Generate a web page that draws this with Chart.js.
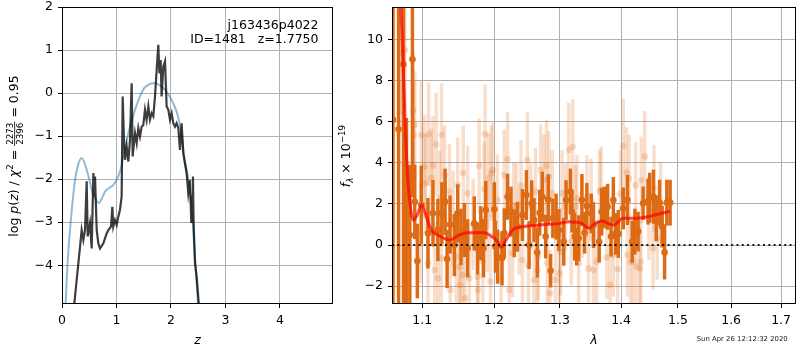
<!DOCTYPE html>
<html>
<head>
<meta charset="utf-8">
<script src="https://cdn.jsdelivr.net/npm/chart.js@4.4.1/dist/chart.umd.min.js"></script>
<style>
  html, body { margin:0; padding:0; background:#ffffff; }
  #wrap { position:relative; width:800px; height:350px; overflow:hidden; background:#fff; }
  canvas { position:absolute; top:0; }
  #pz { left:0; }
  #sp { left:335px; }
</style>
</head>
<body>
<div id="wrap">
  <canvas id="pz" width="340" height="350"></canvas>
  <canvas id="sp" width="465" height="350"></canvas>
</div>
<script>
// ---------------- Left panel data: log p(z) ----------------
const zSmooth = [0.04,0.068,0.10,0.147,0.239,0.30,0.361,0.40,0.453,0.50,0.545,0.60,0.679,0.73,0.79,0.87,0.943,1.03,1.08,1.126,1.218,1.34,1.49,1.57,1.67,1.768,1.915,2.04,2.13,2.19,2.25,2.31,2.374,2.416,2.453,2.495,2.53];
const logpSmooth = [-6.0,-4.88,-4.0,-3.18,-2.02,-1.65,-1.51,-1.58,-1.78,-2.0,-2.25,-2.42,-2.56,-2.45,-2.29,-2.2,-2.13,-1.94,-1.75,-1.47,-0.93,-0.39,0.08,0.18,0.23,0.2,0.04,-0.23,-0.54,-0.93,-1.55,-1.94,-2.56,-3.33,-4.03,-4.88,-5.5];

const zChi = [0.17,0.227,0.331,0.361,0.392,0.423,0.453,0.472,0.514,0.545,0.576,0.594,0.606,0.637,0.667,0.698,0.759,0.820,0.851,0.900,0.924,0.942,0.973,1.004,1.034,1.065,1.095,1.114,1.138,1.157,1.187,1.218,1.248,1.279,1.297,1.340,1.371,1.401,1.432,1.462,1.493,1.524,1.554,1.585,1.615,1.646,1.676,1.707,1.738,1.768,1.787,1.811,1.829,1.860,1.891,1.921,1.952,1.982,2.013,2.043,2.074,2.104,2.135,2.166,2.196,2.227,2.257,2.288,2.318,2.349,2.374,2.392,2.404,2.416,2.441,2.471,2.51,2.53];
const logpChi = [-5.6,-4.88,-3.57,-3.18,-3.41,-3.18,-2.05,-3.33,-3.02,-3.61,-1.86,-2.40,-1.94,-3.18,-3.49,-3.61,-3.49,-3.26,-3.18,-3.10,-2.64,-3.10,-2.95,-3.06,-2.87,-2.71,-2.40,-0.08,-1.09,-1.55,-1.24,-1.59,-1.09,0.23,-1.47,-0.93,-1.16,-0.81,-1.01,-0.78,-0.74,-0.39,-0.62,-0.31,-0.62,-0.47,-0.54,-0.08,0.54,1.12,0.46,0.77,-0.08,0.62,0.74,-0.31,-0.39,-0.62,-0.47,-0.70,-0.78,-0.70,-0.81,-1.32,-0.70,-1.40,-1.63,-1.86,-2.33,-2.02,-3.02,-2.4,-1.94,-3.0,-3.95,-4.26,-4.88,-5.6];

const zTicks = [0,1,2,3,4];
const logpTicks = [-4,-3,-2,-1,0,1,2];

// ---------------- Right panel data: spectrum ----------------
const darkWave = [1.0616,1.0688,1.0752,1.0791,1.0835,1.0869,1.0900,1.0934,1.0987,1.1076,1.1143,1.1210,1.1264,1.1309,1.1336,1.1377,1.1437,1.1483,1.1529,1.1576,1.1622,1.1716,1.1762,1.1809,1.1848,1.1880,1.2005,1.2020,1.2053,1.2117,1.2151,1.2199,1.2249,1.2298,1.2347,1.2421,1.2481,1.2522,1.2562,1.2597,1.2647,1.2684,1.2723,1.2776,1.2816,1.2853,1.2888,1.2939,1.2982,1.3060,1.3096,1.3165,1.3191,1.3234,1.3266,1.3298,1.3350,1.3394,1.3431,1.3502,1.3539,1.3633,1.3675,1.3720,1.3774,1.3831,1.3869,1.3907,1.3953,1.4037,1.4109,1.4190,1.4236,1.4292,1.4379,1.4465,1.4495,1.4561,1.4610,1.4670,1.4716,1.4759,1.4799,1.4858];
const darkFlux = [6.1,5.63,8.79,1.46,0.49,9.04,2.1,-0.78,1.95,0.57,1.54,0.73,1.54,2.1,-0.68,1.0,0.0,1.54,0.4,0.73,-0.16,1.05,-0.16,0.57,-0.16,1.70,1.74,-0.08,-0.57,-0.65,0.57,2.35,1.62,0.57,0.89,1.46,2.43,0.0,2.03,1.22,-0.37,1.57,2.35,0.41,2.22,-1.25,1.30,1.38,0.73,0.16,2.19,2.60,1.62,0.41,-0.08,0.33,2.19,0.60,1.90,1.54,0.97,0.16,1.62,1.83,1.86,0.41,2.19,0.54,0.54,1.78,2.19,0.16,0.65,0.65,2.03,2.11,2.30,2.35,1.30,2.06,0.89,-0.36,2.06,2.06];
const darkErr = [30,30,30,4.7,3.4,6.7,1.8,1.8,1.9,1.7,1.6,1.5,1.5,1.6,1.4,1.4,1.5,1.4,1.35,1.3,1.4,1.3,1.25,1.3,1.4,1.4,1.3,1.25,1.3,1.3,1.2,1.1,1.2,1.15,1.2,1.25,1.2,1.15,1.1,1.05,1.2,1.1,1.2,1.05,1.2,0.8,0.95,1.1,1.0,1.15,0.95,1.1,1.0,1.15,0.9,1.1,1.25,1.0,1.1,0.95,1.1,1.0,1.15,1.0,1.1,0.95,1.1,1.0,1.15,1.0,1.2,1.0,1.1,0.95,0.8,1.1,1.2,1.3,1.1,1.1,1.0,1.3,1.1,1.1];

const lightWave = [1.0726,1.0742,1.0770,1.0878,1.0885,1.0900,1.0977,1.0987,1.1032,1.1043,
  1.1076,1.1085,1.1120,1.1143,1.1166,1.1187,1.1210,1.1233,1.1255,1.1260,
  1.1300,1.1369,1.1380,1.1420,1.1460,1.1483,1.1506,1.1517,1.1552,1.1560,
  1.1584,1.1622,1.1646,1.1700,1.1762,1.1770,1.1786,1.1838,1.1858,1.1872,
  1.1900,1.1923,1.1948,1.1958,1.1981,1.2050,1.2103,1.2150,1.2199,1.2224,
  1.2273,1.2290,1.2332,1.2372,1.2400,1.2421,1.2496,1.2511,1.2547,1.2597,
  1.2620,1.2647,1.2662,1.2699,1.2749,1.2788,1.2800,1.2826,1.2842,1.2877,
  1.2930,1.2992,1.3008,1.3033,1.3087,1.3138,1.3178,1.3202,1.3245,1.3270,
  1.3298,1.3350,1.3431,1.3458,1.3500,1.3539,1.3593,1.3640,1.3665,1.3760,
  1.3814,1.3869,1.3941,1.3990,1.4037,1.4093,1.4109,1.4138,1.4164,1.4207,
  1.4250,1.4263,1.4322,1.4339,1.4349,1.4408,1.4480,1.4553,1.4570,1.4628,
  1.4688];
const lightFlux = [9.33,8.8,9.49,6.57,5.35,5.84,0.57,5.35,3.81,3.0,
  -0.89,5.39,3.25,3.86,-1.22,4.9,-1.62,2.27,-0.65,5.35,
  3.40,2.6,-2.19,1.30,-0.57,2.92,-1.06,-1.95,-1.46,3.50,
  -2.59,2.51,-1.62,1.00,-1.54,-2.19,3.84,-0.81,2.72,5.39,
  0.90,3.24,-1.78,3.49,3.65,2.20,-1.62,3.40,4.17,-2.19,
  -0.41,1.90,1.86,0.65,2.90,-0.73,4.14,-0.97,1.86,-1.70,
  2.60,-1.22,-0.57,3.65,3.16,3.86,-0.89,3.32,-2.35,2.51,
  -1.70,-1.38,-0.33,2.51,1.86,4.62,0.16,4.78,1.86,2.27,
  -0.89,1.38,2.35,-1.14,2.19,-1.22,-0.81,2.60,2.68,-0.60,
  -1.95,-0.49,-1.18,2.50,4.82,3.52,-0.49,3.24,-0.81,-0.81,
  2.90,-1.06,-1.14,-0.81,3.16,4.30,1.30,-0.16,2.76,0.33,
  2.03];
const lightErr = [3.0,3.0,3.0,2.8,2.6,2.6,2.4,2.6,2.5,2.4,
  2.4,2.5,2.4,2.4,2.3,2.5,2.3,2.3,2.2,2.5,
  2.4,2.3,2.3,2.3,2.2,2.3,2.2,2.2,2.2,2.3,
  2.3,2.3,2.3,2.2,2.2,2.2,2.3,2.2,2.3,2.4,
  2.2,2.2,2.2,2.3,2.3,2.2,2.2,2.2,2.3,2.2,
  2.1,2.1,2.1,2.1,2.2,2.1,2.3,2.1,2.1,2.1,
  2.1,2.1,2.1,2.2,2.2,2.2,2.1,2.2,2.1,2.1,
  2.1,2.1,2.1,2.1,2.1,2.3,2.1,2.3,2.0,2.1,
  2.0,2.0,2.0,2.0,2.0,2.0,2.0,2.0,2.1,2.0,
  2.0,2.0,2.0,2.1,2.3,2.2,2.0,2.1,2.0,2.0,
  2.1,2.0,2.0,2.0,2.1,2.2,2.0,2.0,2.1,2.0,
  2.0];

const modelWave = [1.0684,1.0718,1.0748,1.0778,1.0813,1.0848,1.0878,1.0921,1.0995,1.1040,1.1120,1.1210,1.1369,1.1506,1.1622,1.1791,1.1858,1.1934,1.2054,1.2103,1.2176,1.2273,1.2421,1.2673,1.2980,1.3137,1.3349,1.3457,1.3566,1.3674,1.3868,1.4036,1.4235,1.4462,1.4579,1.4815,1.4856];
const modelFlux = [15,11.6,8.68,5.43,3.0,1.70,1.22,1.38,1.95,1.54,0.73,0.49,0.24,0.49,0.60,0.60,0.60,0.49,0.16,-0.11,0.24,0.73,0.89,0.97,1.05,1.13,1.05,0.81,1.05,1.17,0.97,1.30,1.30,1.38,1.46,1.62,1.65];

const waveTicks = [1.1,1.2,1.3,1.4,1.5,1.6,1.7];
const fluxTicks = [-2,0,2,4,6,8,10];
const waveRange = [1.0603, 1.731];
const fluxRange = [-2.87, 11.58];
const zRange = [0, 4.975];
const logpRange = [-4.9, 2];

// ---------------- styling helpers ----------------
const FAM = "'DejaVu Sans', 'Liberation Sans', sans-serif";
Chart.defaults.font.family = FAM;
Chart.defaults.font.size = 12.5;
Chart.defaults.color = '#000';
const DARK = 'rgb(221,106,20)';
const LIGHT = 'rgba(221,106,20,0.22)';
const minus = v => String(v).replace('-', '\u2212');

function axisOpts(prop, size, ticks, fmt, extra) {
  return Object.assign({
    afterFit(s) { s[prop] = size; s.paddingTop = 0; s.paddingBottom = 0; s.paddingLeft = 0; s.paddingRight = 0; },
    afterBuildTicks(s) { s.ticks = ticks.map(v => ({ value: v })); },
    offset: false,
    grid: { color: '#b0b0b0', lineWidth: 1, drawTicks: true, tickLength: 4, tickColor: '#000', tickWidth: 1, offset: false },
    border: { display: false },
    ticks: { padding: 5, autoSkip: false, maxRotation: 0, minRotation: 0, color: '#000', font: { size: 12.5, family: FAM }, callback: fmt }
  }, extra);
}

function drawRich(ctx, segs, x0, y) {
  let x = x0;
  for (const s of segs) {
    ctx.font = s.f;
    if (s.frac) {
      const wn = ctx.measureText(s.num).width, wd = ctx.measureText(s.den).width;
      const w = Math.max(wn, wd) + 2;
      const barY = y - 3.6;
      ctx.textAlign = 'center';
      ctx.fillText(s.num, x + w / 2, barY - 1.6);
      ctx.fillText(s.den, x + w / 2, barY + 1.4 + 6.4);
      ctx.fillRect(x, barY - 0.4, w, 0.8);
      ctx.textAlign = 'left';
      x += w;
    } else {
      ctx.fillText(s.t, x, y - (s.dy || 0));
      x += ctx.measureText(s.t).width;
    }
  }
  return x - x0;
}
function richWidth(ctx, segs) {
  let w = 0;
  for (const s of segs) {
    ctx.font = s.f;
    if (s.frac) w += Math.max(ctx.measureText(s.num).width, ctx.measureText(s.den).width) + 2;
    else w += ctx.measureText(s.t).width;
  }
  return w;
}
const N = "12.5px " + FAM, I = "italic 12.5px " + FAM, S = "8.75px " + FAM, IS = "italic 8.75px " + FAM;

function frameRect(chart) {
  const a = chart.chartArea, ctx = chart.ctx;
  ctx.save();
  ctx.strokeStyle = '#000';
  ctx.lineWidth = 1;
  ctx.strokeRect(Math.round(a.left) + 0.5, Math.round(a.top) + 0.5, Math.round(a.right - a.left) - 1, Math.round(a.bottom - a.top) - 1);
  ctx.restore();
}

// pin the plotting area to the reference frame by correcting layout padding
function pinArea(chart, t) {
  const p = chart.config.options.layout.padding;
  for (let k = 0; k < 4; k++) {
    const a = chart.chartArea;
    const dl = t.left - a.left, dr = a.right - t.right, dt = t.top - a.top, db = a.bottom - t.bottom;
    if (Math.abs(dl) + Math.abs(dr) + Math.abs(dt) + Math.abs(db) < 0.05) break;
    p.left += dl; p.right += dr; p.top += dt; p.bottom += db;
    chart.update('none');
  }
}

// ---------------- Left chart ----------------
const leftPlugin = {
  id: 'leftDeco',
  afterDatasetsDraw(chart) { frameRect(chart); },
  afterDraw(chart) {
    const ctx = chart.ctx;
    ctx.save();
    ctx.fillStyle = '#000';
    ctx.textBaseline = 'alphabetic';
    ctx.font = N;
    ctx.textAlign = 'right';
    ctx.fillText('j163436p4022', 318.5, 28.5);
    ctx.fillText('ID=1481   z=1.7750', 318.5, 42.7);
    ctx.textAlign = 'center';
    ctx.font = I;
    ctx.fillText('z', (chart.chartArea.left + chart.chartArea.right) / 2, 344);
    const segs = [
      { t: 'log', f: N }, { t: ' ', f: N }, { t: 'p', f: I }, { t: '(', f: N }, { t: 'z', f: I }, { t: ')', f: N },
      { t: ' / ', f: N }, { t: '\u03c7', f: I }, { t: '2', f: S, dy: 5 }, { t: ' = ', f: N },
      { frac: true, num: '2273', den: '2396', f: S }, { t: ' = 0.95', f: N }
    ];
    ctx.textAlign = 'left';
    const w = richWidth(ctx, segs);
    ctx.translate(18.3, 156);
    ctx.rotate(-Math.PI / 2);
    drawRich(ctx, segs, -w / 2, 0);
    ctx.restore();
  }
};

const leftChart = new Chart(document.getElementById('pz'), {
  type: 'scatter',
  data: {
    datasets: [
      { type: 'line', data: zChi.map((z, i) => ({ x: z, y: logpChi[i] })), borderColor: 'rgba(0,0,0,0.76)', borderWidth: 2.2, pointRadius: 0, tension: 0, clip: 0, order: 0 },
      { type: 'line', data: zSmooth.map((z, i) => ({ x: z, y: logpSmooth[i] })), borderColor: 'rgba(31,119,180,0.5)', borderWidth: 2, pointRadius: 0, cubicInterpolationMode: 'monotone', clip: 0, order: 1 }
    ]
  },
  options: {
    responsive: false, animation: false, devicePixelRatio: 1, events: [],
    layout: { padding: { left: 0, top: 7, right: 7, bottom: 0 } },
    plugins: { legend: { display: false }, tooltip: { enabled: false } },
    scales: {
      x: axisOpts('height', 46, zTicks, v => minus(v), { type: 'linear', min: zRange[0], max: zRange[1] }),
      y: axisOpts('width', 62, logpTicks, v => minus(v), { type: 'linear', min: logpRange[0], max: logpRange[1] })
    }
  },
  plugins: [leftPlugin]
});
pinArea(leftChart, { left: 62, top: 7, right: 333, bottom: 304 });

// ---------------- Right chart ----------------
const rightPlugin = {
  id: 'rightDeco',
  afterDatasetsDraw(chart) { frameRect(chart); },
  afterDraw(chart) {
    const ctx = chart.ctx;
    ctx.save();
    ctx.fillStyle = '#000';
    ctx.textBaseline = 'alphabetic';
    ctx.textAlign = 'center';
    ctx.font = I;
    ctx.fillText('\u03bb', (chart.chartArea.left + chart.chartArea.right) / 2, 344);
    ctx.font = "6.9px " + FAM;
    ctx.textAlign = 'right';
    ctx.fillStyle = '#222';
    ctx.fillText('Sun Apr 26 12:12:32 2020', 452.7, 341.3);
    ctx.fillStyle = '#000';
    const segs = [
      { t: 'f', f: I }, { t: '\u03bb', f: IS, dy: -2.5 }, { t: ' \u00d7 10', f: N }, { t: '\u221219', f: S, dy: 5 }
    ];
    ctx.textAlign = 'left';
    const w = richWidth(ctx, segs);
    ctx.translate(15, 156);
    ctx.rotate(-Math.PI / 2);
    drawRich(ctx, segs, -w / 2, 0);
    ctx.restore();
  }
};

const rightChart = new Chart(document.getElementById('sp'), {
  type: 'scatter',
  data: {
    datasets: [
      { type: 'line', data: [{ x: waveRange[0], y: 0 }, { x: waveRange[1], y: 0 }], borderColor: 'rgba(0,0,0,0.85)', borderWidth: 2, borderDash: [2, 3.3], pointRadius: 0, clip: 0, order: 0 },
      { type: 'line', data: modelWave.map((w, i) => ({ x: w, y: modelFlux[i] })), borderColor: 'rgba(255,0,0,0.7)', borderWidth: 3, pointRadius: 0, cubicInterpolationMode: 'monotone', clip: 0, order: 1 },
      { type: 'scatter', data: darkWave.map((w, i) => ({ x: w, y: darkFlux[i] })), backgroundColor: DARK, borderWidth: 0, pointRadius: 3.3, clip: 0, order: 2 },
      { type: 'bar', data: darkWave.map((w, i) => ({ x: w, y: [darkFlux[i] - darkErr[i], darkFlux[i] + darkErr[i]] })), backgroundColor: DARK, borderWidth: 0, barThickness: 2.8, grouped: false, clip: 0, order: 3 },
      { type: 'scatter', data: lightWave.map((w, i) => ({ x: w, y: lightFlux[i] })), backgroundColor: LIGHT, borderWidth: 0, pointRadius: 3.3, clip: 0, order: 4 },
      { type: 'bar', data: lightWave.map((w, i) => ({ x: w, y: [lightFlux[i] - lightErr[i], lightFlux[i] + lightErr[i]] })), backgroundColor: LIGHT, borderWidth: 0, barThickness: 2.8, grouped: false, clip: 0, order: 5 }
    ]
  },
  options: {
    responsive: false, animation: false, devicePixelRatio: 1, events: [],
    layout: { padding: { left: 0, top: 7, right: 1, bottom: 0 } },
    plugins: { legend: { display: false }, tooltip: { enabled: false } },
    scales: {
      x: axisOpts('height', 46, waveTicks, v => Number(v).toFixed(1), { type: 'logarithmic', min: waveRange[0], max: waveRange[1] }),
      y: axisOpts('width', 57, fluxTicks, v => minus(v), { type: 'linear', min: fluxRange[0], max: fluxRange[1], stacked: false })
    }
  },
  plugins: [rightPlugin]
});
pinArea(rightChart, { left: 57, top: 7, right: 464, bottom: 304 });
</script>
</body>
</html>
